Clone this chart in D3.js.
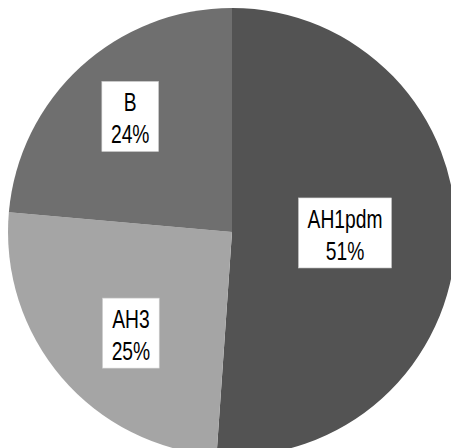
<!DOCTYPE html>
<html>
<head>
<meta charset="utf-8">
<script src="https://cdn.jsdelivr.net/npm/d3@7"></script>
<style>
  html, body { margin: 0; padding: 0; background: #fff; }
</style>
</head>
<body>
<div id="chart"></div>
<script>
// subtype share (%)
const categories = ['AH1pdm', 'AH3', 'B'];
const shares = [51.1, 25.3, 23.6];

const colors = { AH1pdm: '#535353', AH3: '#a5a5a5', B: '#6f6f6f' };
// where Excel put each label box (radius from center, small angle nudge in degrees)
const labelLayout = {
    AH1pdm: { r: 113, da: -1.5 },
    AH3: { r: 143, da: -4.5 },
    B: { r: 154, da: 1.1 }
};

const width = 451;
const height = 448;
const cx = 232;
const cy = 232;
const radius = 224;

const svg = d3.select('#chart').append('svg')
    .attr('width', width)
    .attr('height', height);

const data = categories.map((c, i) => ({ name: c, value: shares[i] }));

const pie = d3.pie()
    .sort(null)
    .value(d => d.value);

const arc = d3.arc()
    .innerRadius(0)
    .outerRadius(radius);

const arcs = pie(data);

const g = svg.append('g').attr('transform', `translate(${cx},${cy})`);

g.selectAll('path.slice')
    .data(arcs)
    .join('path')
    .attr('class', 'slice')
    .attr('d', arc)
    .attr('fill', d => colors[d.data.name]);

// labels: white box with name + percentage
const total = d3.sum(shares);
const xScale = 0.77;

arcs.forEach(d => {
    const lay = labelLayout[d.data.name];
    const mid = (d.startAngle + d.endAngle) / 2 + lay.da * Math.PI / 180;
    const lx = Math.sin(mid) * lay.r;
    const ly = -Math.cos(mid) * lay.r;

    const lg = g.append('g').attr('transform', `translate(${lx},${ly})`);
    const rect = lg.append('rect');
    const txt = lg.append('text')
        .attr('transform', `scale(${xScale},1)`)
        .attr('text-anchor', 'middle')
        .attr('font-family', '"Liberation Sans", Arial, sans-serif')
        .attr('font-size', '25px')
        .attr('fill', '#000');
    txt.append('tspan')
        .attr('x', 0)
        .attr('y', -5)
        .text(d.data.name);
    txt.append('tspan')
        .attr('x', 0)
        .attr('y', 27)
        .text(`${Math.round(d.data.value / total * 100)}%`);

    const bb = txt.node().getBBox();
    const w = bb.width * xScale + 18;
    rect.attr('x', -w / 2)
        .attr('y', -35)
        .attr('width', w)
        .attr('height', 70)
        .attr('fill', '#fff')
        .attr('stroke', '#d0d0d0')
        .attr('stroke-width', 0.6);
});
</script>
</body>
</html>
